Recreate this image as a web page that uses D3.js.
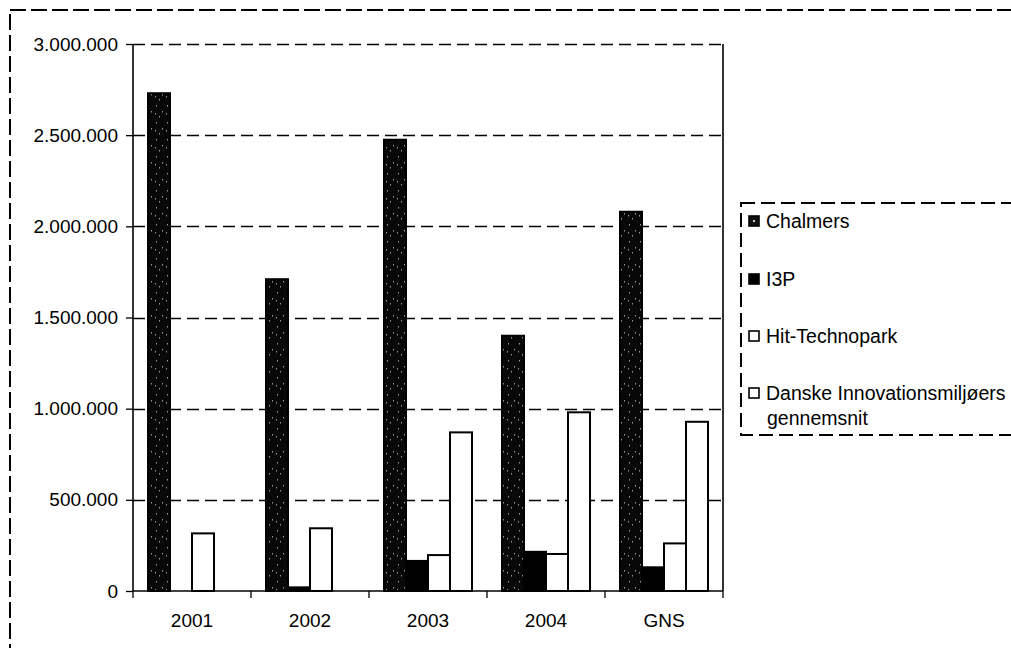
<!DOCTYPE html>
<html>
<head>
<meta charset="utf-8">
<script src="https://cdn.jsdelivr.net/npm/d3@7"></script>
<style>
  body { margin: 0; background: #fff; }
  text { font-family: "Liberation Sans", Arial, sans-serif; fill: #000; }
</style>
</head>
<body>
<svg width="1011" height="648"></svg>
<script>
// categories and series
var categories = ["2001", "2002", "2003", "2004", "GNS"];
var seriesNames = ["Chalmers", "I3P", "Hit-Technopark", "Danske Innovationsmiljøers gennemsnit"];
var chalmers = [2730000, 1710000, 2475000, 1400000, 2080000];
var i3p = [0, 20000, 165000, 215000, 130000];
var hit = [316000, 344000, 197000, 203000, 261000];
var danske = [0, 0, 870000, 980000, 928000];
var yTicks = [0, 500000, 1000000, 1500000, 2000000, 2500000, 3000000];

var seriesValues = [chalmers, i3p, hit, danske];
var fills = ["url(#speckle)", "#000", "#fff", "#fff"];

var svg = d3.select("svg");
var plotLeft = 133, plotRight = 723, plotTop = 44, plotBottom = 591;

// speckled dark fill for Chalmers
var defs = svg.append("defs");
var pat = defs.append("pattern").attr("id", "speckle")
	.attr("patternUnits", "userSpaceOnUse").attr("width", 11).attr("height", 17);
pat.append("rect").attr("width", 11).attr("height", 17).attr("fill", "#080808");
[[2, 3], [8, 9], [5, 14], [1, 11]].forEach(function(p) {
	pat.append("rect").attr("x", p[0]).attr("y", p[1]).attr("width", 1).attr("height", 1.5).attr("fill", "#999");
});

// outer frame
svg.append("rect")
	.attr("x", 10).attr("y", 10).attr("width", 1030).attr("height", 660)
	.attr("fill", "none").attr("stroke", "#000").attr("stroke-width", 1.5)
	.attr("shape-rendering", "crispEdges")
	.attr("stroke-dasharray", "16,5");

var y = d3.scaleLinear().domain([0, 3000000]).range([plotBottom, plotTop]);
var x0 = d3.scaleBand().domain(categories).range([plotLeft, plotRight]);
var x1 = d3.scaleBand().domain(d3.range(seriesNames.length)).range([15, 103]);

// gridlines
svg.append("g").selectAll("line")
	.data(yTicks.filter(function(d) { return d > 0; }))
	.enter().append("line")
		.attr("x1", plotLeft).attr("x2", plotRight)
		.attr("y1", function(d) { return Math.round(y(d)) + 0.5; })
		.attr("y2", function(d) { return Math.round(y(d)) + 0.5; })
		.attr("stroke", "#000").attr("stroke-width", 1.3)
		.attr("stroke-dasharray", "12,6");

// plot area right edge
svg.append("line").attr("x1", plotRight).attr("x2", plotRight).attr("y1", plotTop).attr("y2", plotBottom)
	.attr("stroke", "#000").attr("stroke-width", 1.6);

// bars (zero values are not drawn)
seriesValues.forEach(function(vals, s) {
	var pts = vals.map(function(v, i) { return { cat: categories[i], v: v }; })
		.filter(function(d) { return d.v > 0; });
	svg.append("g").selectAll("rect")
		.data(pts)
		.enter().append("rect")
			.attr("x", function(d) { return x0(d.cat) + x1(s); })
			.attr("y", function(d) { return y(d.v); })
			.attr("width", x1.bandwidth())
			.attr("height", function(d) { return plotBottom - y(d.v); })
			.attr("fill", fills[s])
			.attr("stroke", "#000").attr("stroke-width", 2);
});

// y axis
var yAxis = svg.append("g")
	.attr("transform", "translate(" + plotLeft + ",0)")
	.call(d3.axisLeft(y).tickValues(yTicks).tickSize(7).tickPadding(8)
		.tickFormat(function(d) { return d3.format(",")(d).replace(/,/g, "."); }));
yAxis.select(".domain").attr("stroke-width", 1.6).attr("d", "M0," + plotTop + "V" + plotBottom);
yAxis.selectAll("line").attr("stroke-width", 1.3);
yAxis.selectAll("text").attr("font-size", 19).attr("font-family", "Liberation Sans, Arial, sans-serif");

// x axis
var xAxis = svg.append("g")
	.attr("transform", "translate(0," + plotBottom + ")")
	.call(d3.axisBottom(x0).tickSize(0).tickPadding(23));
xAxis.select(".domain").attr("stroke-width", 1.6).attr("d", "M" + plotLeft + ",0H" + plotRight);
xAxis.selectAll("text").attr("font-size", 19).attr("font-family", "Liberation Sans, Arial, sans-serif");
xAxis.selectAll(".sep")
	.data(d3.range(categories.length + 1))
	.enter().append("line")
		.attr("x1", function(i) { return plotLeft + i * x0.step(); })
		.attr("x2", function(i) { return plotLeft + i * x0.step(); })
		.attr("y1", 0).attr("y2", 7)
		.attr("stroke", "#000").attr("stroke-width", 1.3);

// legend
var legend = svg.append("g");
legend.append("rect")
	.attr("x", 741).attr("y", 203).attr("width", 300).attr("height", 232)
	.attr("fill", "#fff").attr("stroke", "#000").attr("stroke-width", 1.5)
	.attr("shape-rendering", "crispEdges")
	.attr("stroke-dasharray", "14,6");
var legendY = [221, 279, 336, 393];
seriesNames.forEach(function(name, s) {
	legend.append("rect")
		.attr("x", 749).attr("y", legendY[s] - 5).attr("width", 10).attr("height", 10)
		.attr("fill", s === 0 ? "#111" : fills[s]).attr("stroke", "#000").attr("stroke-width", 1.6);
	if (s === 0) {
		legend.append("rect").attr("x", 753).attr("y", legendY[s] - 1).attr("width", 2).attr("height", 2).attr("fill", "#ccc");
	}
	var words = s === 3 ? ["Danske Innovationsmiljøers", "gennemsnit"] : [name];
	var t = legend.append("text")
		.attr("x", 766).attr("y", legendY[s] + 7)
		.attr("font-size", 19.5);
	words.forEach(function(w, k) {
		t.append("tspan").attr("x", k === 0 ? 766 : 767).attr("dy", k === 0 ? 0 : 25).text(w);
	});
});
</script>
</body>
</html>
